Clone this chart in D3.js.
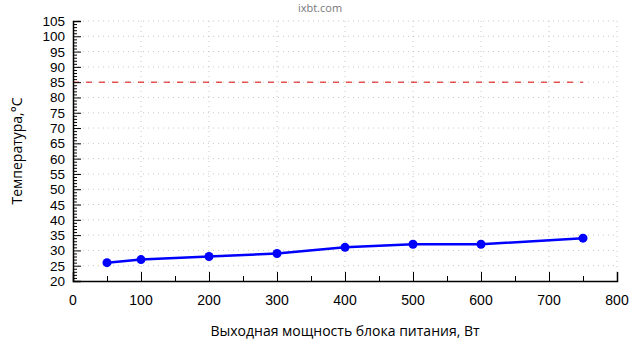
<!DOCTYPE html>
<html><head><meta charset="utf-8">
<script src="https://cdn.jsdelivr.net/npm/d3@7/dist/d3.min.js"></script>
<style>body{margin:0;background:#fff}svg{display:block}text{font-family:"Open Sans","Noto Sans",sans-serif}text.tk{font-family:"Liberation Sans",Arial,sans-serif}</style>
</head><body><svg id="c" width="640" height="360"></svg>
<script>
const powerW = [50, 100, 200, 300, 400, 500, 600, 750];
const tempC = [26, 27, 28, 29, 31, 32, 32, 34];
const limitTemp = 85;
const limitRange = [0, 750];
const xTicks = [0, 100, 200, 300, 400, 500, 600, 700, 800];
const yTicks = d3.range(20, 106, 5);
const title = "ixbt.com";
const xLabel = "Выходная мощность блока питания, Вт";
const yLabel = "Температура,°C";

const svg = d3.select("#c");
const L = 73, R = 617, T = 21, B = 281;
const x = d3.scaleLinear().domain([0, 800]).range([L, R]);
const y = d3.scaleLinear().domain([20, 105]).range([B, T]);

// grid
const g = svg.append("g");
g.selectAll(".gy").data(yTicks.slice(1)).join("line")
  .attr("x1", L).attr("x2", R).attr("y1", d => y(d)).attr("y2", d => y(d))
  .attr("stroke", "#c8c8c8").attr("stroke-dasharray", "1,4").attr("stroke-width", 1);
g.selectAll(".gx").data(xTicks.slice(1)).join("line")
  .attr("x1", d => x(d)).attr("x2", d => x(d)).attr("y1", T).attr("y2", B)
  .attr("stroke", "#c8c8c8").attr("stroke-dasharray", "1,4").attr("stroke-width", 1);

// limit line
svg.append("line").attr("x1", x(limitRange[0])).attr("x2", x(limitRange[1]))
  .attr("y1", y(limitTemp)).attr("y2", y(limitTemp))
  .attr("stroke", "#e00000").attr("stroke-width", 1).attr("stroke-dasharray", "6,7");

// axes
const xAxis = d3.axisTop(x).tickValues(xTicks).tickSize(9).tickFormat("");
svg.append("g").attr("transform", `translate(0,${B})`).call(xAxis);
const xMinor = d3.axisTop(x).tickValues(d3.range(50, 800, 100)).tickSize(5).tickFormat("");
svg.append("g").attr("transform", `translate(0,${B})`).call(xMinor).select(".domain").remove();
svg.append("g").selectAll("text").data(xTicks).join("text").attr("class", "tk")
  .attr("x", d => x(d)).attr("y", 305).attr("text-anchor", "middle")
  .attr("font-size", 14).attr("fill", "#000").text(d => d);

const yAxis = d3.axisRight(y).tickValues(yTicks).tickSize(8).tickFormat("");
svg.append("g").attr("transform", `translate(${L},0)`).call(yAxis);
const yMinor = d3.axisRight(y).tickValues(d3.range(20, 106, 1).filter(d => d % 5)).tickSize(4).tickFormat("");
svg.append("g").attr("transform", `translate(${L},0)`).call(yMinor).select(".domain").remove();
svg.append("g").selectAll("text").data(yTicks).join("text").attr("class", "tk")
  .attr("x", 65).attr("y", d => y(d) + 5).attr("text-anchor", "end")
  .attr("font-size", 13.5).attr("fill", "#000").text(d => d);
svg.selectAll(".domain").attr("stroke", "#000").attr("stroke-width", 1.5);
svg.selectAll(".tick line").attr("stroke", "#000");

// series
const pts = powerW.map((p, i) => [p, tempC[i]]);
svg.append("path").datum(pts)
  .attr("d", d3.line().x(d => x(d[0])).y(d => y(d[1])))
  .attr("fill", "none").attr("stroke", "#0000ff").attr("stroke-width", 2.5);
svg.selectAll(".pt").data(pts).join("circle")
  .attr("cx", d => x(d[0])).attr("cy", d => y(d[1])).attr("r", 4.5).attr("fill", "#0000ff");

// labels
svg.append("text").attr("x", 320).attr("y", 12).attr("text-anchor", "middle")
  .attr("font-size", 11).attr("fill", "#777").text(title);
svg.append("text").attr("x", 345).attr("y", 336).attr("text-anchor", "middle")
  .attr("font-size", 14).attr("fill", "#000").text(xLabel);
svg.append("text").attr("transform", "translate(22,151) rotate(-90)").attr("text-anchor", "middle")
  .attr("font-size", 14).attr("fill", "#000").text(yLabel);
</script></body></html>
